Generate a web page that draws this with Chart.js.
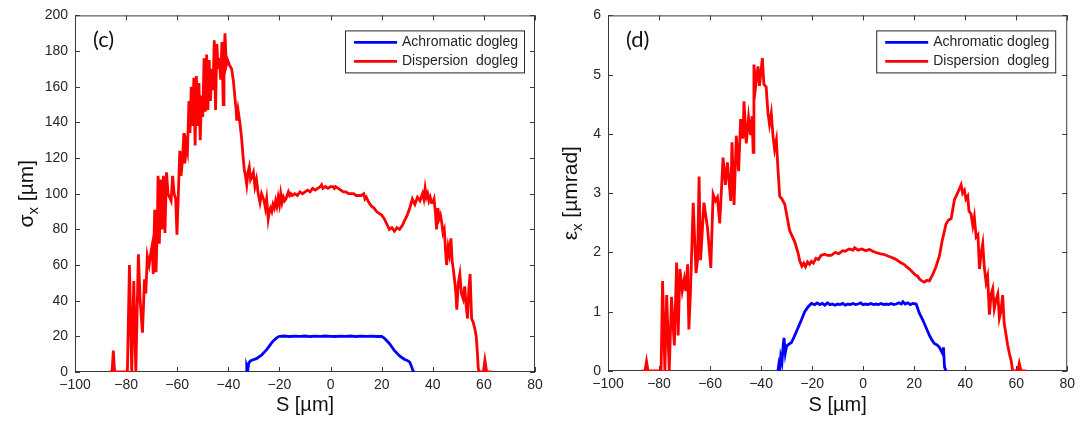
<!DOCTYPE html>
<html>
<head>
<meta charset="utf-8">
<script src="https://cdn.jsdelivr.net/npm/chart.js@4"></script>
<style>
  body { margin: 0; background: #fff; width: 1080px; height: 421px; overflow: hidden; position: relative; }
  canvas { position: absolute; top: 0; }
  #plotC { left: 0; }
  #plotD { left: 540px; }
</style>
</head>
<body>
<canvas id="plotC" width="560" height="421"></canvas>
<canvas id="plotD" width="540" height="421"></canvas>
<script>
// ---- data: [S (um), value] ----
const xTicks = [-100, -80, -60, -40, -20, 0, 20, 40, 60, 80];
const sigmaTicks = [0, 20, 40, 60, 80, 100, 120, 140, 160, 180, 200];
const emitTicks = [0, 1, 2, 3, 4, 5, 6];
const seriesNames = ["Achromatic dogleg", "Dispersion  dogleg"];

// (c) sigma_x, achromatic dogleg
const sigmaAchro = [
  [-33,0],[-32.8,3],[-32.4,1],[-32,5],[-31.5,6],[-31,6.5],[-30,7],[-29,7.5],[-28,8.5],[-27,9.5],
  [-26,11],[-25,12.5],[-24,14.5],[-23,16.5],[-22,18],[-21,19.3],[-20,20],[-18,20.2],[-16,19.9],
  [-14,20.1],[-12,20],[-10,20.2],[-8,19.9],[-6,20.1],[-4,20],[-2,20.2],[0,20],[2,19.9],[4,20.1],
  [6,20],[8,20.2],[10,19.9],[12,20.1],[14,20],[16,20.1],[18,19.9],[20,20],[21,19],[22,17.5],
  [23,16],[24,14],[25,12],[26,10.5],[27,9],[28,8],[29,7],[30,6.5],[31,5.5],[31.7,3],[32.2,1],
  [32.5,0],[33,0]
];

// (c) sigma_x, dispersion dogleg
const sigmaDisp = [
  [-86.5,0],[-85.5,0],[-85,12],[-84.5,0],[-79.5,0],[-78.7,60],[-77.8,0],[-77,51],[-76.2,0],[-75.2,66],
  [-74.5,40],[-73.6,22],[-72.8,52],[-72.3,44],[-71.7,65],[-71,60],[-70.3,67],[-69.8,71],[-69.4,55],
  [-68.8,91],[-68.3,56],[-67.8,80],[-67.5,110],[-67,72],[-66.4,108],[-66,80],[-65.4,110],[-64.8,78],
  [-64.2,112],[-63.6,100],[-63,98],[-62.4,96],[-61.8,110],[-61.2,100],[-60.6,97],[-60.1,77],[-59.6,98],
  [-59,124],[-58.5,110],[-58,118],[-57.4,134],[-57,117],[-56.5,128],[-56,124],[-55.4,152],[-55,134],
  [-54.5,160],[-54,138],[-53.5,165],[-53,127],[-52.5,166],[-52,138],[-51.5,162],[-51,130],[-50.5,155],
  [-50,143],[-49.5,176],[-49,146],[-48.5,178],[-48,147],[-47.5,175],[-47,152],[-46.5,170],[-46,158],
  [-45.5,186],[-45,147],[-44.5,184],[-44,170],[-43.5,176],[-43,164],[-42.5,185],[-42,150],[-41.7,176],
  [-41.3,190],[-40.8,172],[-40.3,175],[-39.5,172],[-38.7,170],[-38,163],[-37.3,152],[-37,148],
  [-36.7,141],[-36.2,147],[-35.5,140],[-34.8,131],[-34.3,122],[-33.8,114],[-33.3,110],[-32.8,105],
  [-32.3,112],[-31.8,115],[-31.3,108],[-30.7,110],[-30.2,112],[-29.6,104],[-29,108],[-28.3,100],
  [-27.6,95],[-27,100],[-26.5,98],[-26,96],[-25.5,92],[-25,97],[-24.4,86],[-24,90],[-23.5,92],
  [-23,90],[-22.5,94],[-22,92],[-21.5,96],[-21,93],[-20.5,98],[-20,94],[-19.5,100],[-19,95],
  [-18.5,98],[-18,96],[-17.5,97],[-17,99],[-16.5,101],[-16,99],[-15.5,100],[-15,99],[-14,100],
  [-13,99],[-12,101],[-11,100],[-10,101],[-9,102],[-8,101],[-7,103],[-6,102],[-5,103],[-4,104],
  [-3.5,105],[-3,103],[-2,104],[-1,103],[0,104],[1,104],[1.5,103],[2,104],[3,103],[4,102],[5,101],
  [6,101],[7,100],[8,100],[9,100],[10,99],[11,99],[12,99],[13,100],[13.5,97],[14,98],[15,95],
  [16,93],[17,92],[18,90],[19,89],[20,88],[21,86],[22,83],[23,80],[24,81],[25,79],[26,81],[27,80],
  [28,82],[29,85],[30,88],[31,92],[32,97],[33,94],[34,98],[35,96],[36,100],[36.5,97],[37,103],
  [37.5,98],[38,100],[38.5,96],[39,98],[39.5,95],[40,95],[40.5,97],[41,90],[41.5,80],[42,92],
  [42.5,86],[43,88],[43.5,84],[44,78],[44.5,80],[45,68],[45.4,60],[46,70],[46.5,66],[47.1,75],
  [47.6,62],[48,58],[48.5,52],[49,45],[49.4,35],[50,50],[50.6,55],[51.2,44],[51.9,41],[52.5,48],
  [53,38],[53.6,30],[54.1,46],[54.6,55],[55.2,30],[55.8,28],[56.5,24],[57,20],[57.4,12],[57.8,2],
  [58.2,0],[59.8,0],[60.4,6.6],[61.1,0],[63,0]
];

// (d) eps_x, achromatic dogleg
const emitAchro = [
  [-33.4,0],[-33,0.12],[-32.6,0.05],[-32.3,0.24],[-31.8,0.15],[-31.3,0.45],[-31,0.56],[-30.5,0.3],
  [-30,0.42],[-29.2,0.45],[-28.1,0.48],[-27,0.58],[-25.5,0.73],[-24.2,0.86],[-22.9,1.0],[-21.6,1.08],
  [-20.3,1.14],[-19,1.12],[-18,1.15],[-17,1.12],[-16,1.14],[-15,1.11],[-14,1.15],[-13,1.12],
  [-12,1.13],[-11,1.11],[-10,1.13],[-9,1.12],[-8,1.14],[-7,1.11],[-6,1.13],[-5,1.12],[-4,1.14],
  [-3,1.12],[-2,1.13],[-1,1.15],[0,1.12],[1,1.13],[2,1.12],[3,1.14],[4,1.12],[5,1.13],[6,1.12],
  [7,1.14],[8,1.12],[9,1.13],[10,1.12],[11,1.14],[12,1.12],[13,1.13],[14,1.15],[15,1.13],
  [15.6,1.17],[16.5,1.13],[17.5,1.15],[18.5,1.12],[19.5,1.14],[20.8,1.13],[22,0.98],[23.4,0.86],
  [24.7,0.73],[26,0.6],[27,0.52],[28,0.46],[29,0.44],[29.9,0.4],[30.5,0.35],[31.2,0.29],[31.5,0.4],
  [31.9,0.07],[32.5,0]
];

// (d) eps_x, dispersion dogleg
const emitDisp = [
  [-86.8,0],[-85.5,0],[-84.9,0.16],[-84.3,0],[-79.2,0],[-78.6,1.52],[-77.7,0],[-77,1.28],[-76,0],
  [-75.1,1.25],[-74,0.43],[-73.1,1.83],[-72.5,0.6],[-71.8,1.72],[-70.9,1.35],[-70.1,1.55],
  [-69.5,1.35],[-68.8,1.8],[-68.3,0.7],[-67.7,1.3],[-66.6,2.84],[-65.5,1.65],[-64.9,1.87],
  [-64.3,3.28],[-63.7,1.87],[-62.4,2.84],[-61,2.42],[-59.7,1.74],[-58.8,2.98],[-57.9,2.87],
  [-57.1,2.93],[-56.2,2.49],[-54.9,3.6],[-54,3.14],[-53.2,3.52],[-51.9,2.87],[-51.4,3.86],
  [-50.6,2.8],[-49.7,3.97],[-48.8,3.37],[-48,4.25],[-47.1,3.92],[-46.7,4.55],[-45.8,3.84],
  [-44.9,4.28],[-44.1,3.98],[-43.5,4.3],[-43.1,3.69],[-42.8,5.17],[-42.1,4.81],[-41.2,5.14],
  [-40.6,4.81],[-39.5,5.28],[-38.9,4.84],[-38,4.79],[-37.3,4.35],[-36.7,4.16],[-36,4.35],
  [-35.3,3.95],[-34.7,3.74],[-34,3.9],[-33.4,3.42],[-32.7,2.95],[-31.8,2.9],[-30.7,2.81],
  [-29.8,2.6],[-28.8,2.37],[-26.8,2.18],[-25.5,1.99],[-24.8,1.85],[-24,1.77],[-23.3,1.82],
  [-22.6,1.76],[-21.8,1.84],[-21,1.8],[-20.3,1.85],[-19.5,1.82],[-18.5,1.9],[-17.5,1.88],
  [-16.5,1.95],[-15.1,1.97],[-14,1.95],[-12.5,1.95],[-11,2.0],[-9.5,1.98],[-8,2.03],[-7,2.02],
  [-5.5,2.06],[-4,2.04],[-3.3,2.08],[-2,2.04],[-0.5,2.06],[1,2.03],[2.5,2.05],[3.8,2.02],[5,2.0],
  [6.5,1.98],[8,1.97],[9.7,1.94],[11,1.92],[12,1.9],[13,1.88],[14,1.85],[15,1.82],[16,1.8],
  [17,1.76],[18.2,1.72],[19.3,1.67],[20.5,1.62],[21.3,1.6],[22.1,1.55],[23,1.52],[24,1.5],
  [25,1.53],[26,1.52],[27.3,1.63],[28.5,1.75],[29.9,1.94],[31,2.2],[32.5,2.48],[33.5,2.55],
  [34.5,2.57],[35.8,2.89],[37,3.0],[37.8,3.08],[38.4,3.14],[39,3.0],[39.7,3.05],[40.3,2.9],
  [41,2.95],[41.5,2.7],[42.3,2.65],[43,2.45],[43.6,2.6],[44.3,2.26],[45,2.3],[45.6,1.72],
  [46.3,2.0],[46.9,2.15],[47.5,1.75],[48.2,1.5],[48.8,1.6],[49.5,0.95],[50.2,1.3],[50.8,1.39],
  [51.4,1.05],[52.1,1.2],[52.8,1.3],[53.4,0.89],[54,1.0],[54.7,1.28],[55.3,0.8],[56,0.62],
  [56.6,0.45],[57.3,0.3],[58,0.18],[58.6,0],[60.6,0],[61.2,0.13],[61.9,0],[63.8,0]
];

const BLUE = "#0000ff";
const RED = "#ff0000";
const AXIS = "#3a3a3a";
const TEXT = "#262626";
const FONT = '"Liberation Sans", Arial, sans-serif';

function toPoints(list) {
    return list.map(p => ({ x: p[0], y: p[1] }));
}

function fmt(v) {
    return v < 0 ? "\u2212" + Math.abs(v) : String(v);
}

/* ===============================
   MATLAB-STYLE FRAME, LEGEND, LABELS
================================= */
const matlabLook = {
    id: "matlabLook",
    beforeDatasetsDraw(chart) {
        const ctx = chart.ctx;
        const a = chart.chartArea;
        const sx = chart.scales.x, sy = chart.scales.y;
        ctx.save();
        ctx.strokeStyle = AXIS;
        ctx.lineWidth = 1;
        ctx.strokeRect(a.left + 0.5, a.top + 0.5, a.right - a.left - 1, a.bottom - a.top - 1);
        ctx.beginPath();
        sx.ticks.forEach(t => {
            let px = Math.round(sx.getPixelForValue(t.value)) + 0.5;
            ctx.moveTo(px, a.bottom); ctx.lineTo(px, a.bottom - 5);
            ctx.moveTo(px, a.top); ctx.lineTo(px, a.top + 5);
        });
        sy.ticks.forEach(t => {
            let py = Math.round(sy.getPixelForValue(t.value)) + 0.5;
            ctx.moveTo(a.left, py); ctx.lineTo(a.left + 5, py);
            ctx.moveTo(a.right, py); ctx.lineTo(a.right - 5, py);
        });
        ctx.stroke();
        ctx.restore();
    },
    afterDraw(chart, args, o) {
        const ctx = chart.ctx;
        const a = chart.chartArea;
        ctx.save();

        // legend box
        let lw = 179, lx = a.right - o.legendGap - lw, ly = a.top + 15;
        ctx.fillStyle = "#fff";
        ctx.fillRect(lx, ly, lw, 42);
        ctx.strokeStyle = TEXT;
        ctx.lineWidth = 1;
        ctx.strokeRect(lx + 0.5, ly + 0.5, lw, 42);
        ctx.font = "14px " + FONT;
        ctx.textBaseline = "middle";
        ctx.textAlign = "left";
        chart.data.datasets.forEach((ds, i) => {
            let yy = ly + 12 + i * 19;
            ctx.strokeStyle = ds.borderColor;
            ctx.lineWidth = 2.8;
            ctx.beginPath();
            ctx.moveTo(lx + 9, yy); ctx.lineTo(lx + 52, yy);
            ctx.stroke();
            ctx.fillStyle = TEXT;
            ctx.fillText(ds.label, lx + 57, yy);
        });

        // panel tag
        ctx.fillStyle = "#111";
        ctx.font = "22px Lato, " + FONT;
        ctx.fillText(o.tag, a.left + 18, a.top + 25);

        // x title
        ctx.font = "20px " + FONT;
        ctx.textAlign = "center";
        ctx.fillStyle = "#111";
        ctx.fillText("S [\u00b5m]", (a.left + a.right) / 2, 405);

        // y title with subscript, rotated
        ctx.translate(o.yTitleX, (a.top + a.bottom) / 2);
        ctx.rotate(-Math.PI / 2);
        ctx.textAlign = "left";
        ctx.font = "21px " + FONT;
        let w1 = ctx.measureText(o.sym).width;
        let w3 = ctx.measureText(o.unit).width;
        ctx.font = "15px " + FONT;
        let w2 = ctx.measureText("x").width;
        let start = -(w1 + w2 + w3) / 2;
        ctx.font = "21px " + FONT;
        ctx.fillText(o.sym, start, 0);
        ctx.font = "15px " + FONT;
        ctx.fillText("x", start + w1, 7);
        ctx.font = "21px " + FONT;
        ctx.fillText(o.unit, start + w1 + w2, 0);
        ctx.restore();
    }
};

function makePlot(id, achro, disp, yTicks, yMax, pad, deco) {
    return new Chart(document.getElementById(id), {
        type: "scatter",
        data: {
            datasets: [
                { label: seriesNames[0], data: toPoints(achro), borderColor: BLUE, backgroundColor: BLUE },
                { label: seriesNames[1], data: toPoints(disp), borderColor: RED, backgroundColor: RED }
            ].map(d => Object.assign(d, { showLine: true, pointRadius: 0, borderWidth: 2.8, tension: 0, fill: false }))
        },
        options: {
            responsive: false,
            animation: false,
            events: [],
            layout: { autoPadding: false, padding: pad },
            plugins: { legend: { display: false }, tooltip: { enabled: false }, matlabLook: deco },
            scales: {
                x: {
                    type: "linear", min: xTicks[0], max: xTicks[xTicks.length - 1],
                    afterBuildTicks: s => { s.ticks = xTicks.map(v => ({ value: v })); },
                    afterFit: s => { s.height = 421 - pad.top - (deco.plotH); },
                    grid: { display: false, drawTicks: false },
                    border: { display: false },
                    ticks: { autoSkip: false, maxRotation: 0, padding: 5, color: TEXT, font: { family: FONT, size: 14 }, callback: v => fmt(v) }
                },
                y: {
                    type: "linear", min: 0, max: yMax,
                    afterBuildTicks: s => { s.ticks = yTicks.map(v => ({ value: v })); },
                    afterFit: s => { s.width = deco.axisW; },
                    grid: { display: false, drawTicks: false },
                    border: { display: false },
                    ticks: { autoSkip: false, padding: 7, color: TEXT, font: { family: FONT, size: 14 }, callback: v => fmt(v) }
                }
            }
        },
        plugins: [matlabLook]
    });
}

makePlot("plotC", sigmaAchro, sigmaDisp, sigmaTicks, 200,
    { top: 10, right: 25, left: 0, bottom: 0 },
    { tag: "(c)", sym: "\u03c3", unit: " [\u00b5m]", yTitleX: 27, axisW: 75, plotH: 362, legendGap: 11 });

makePlot("plotD", emitAchro, emitDisp, emitTicks, 6,
    { top: 6, right: 12, left: 0, bottom: 0 },
    { tag: "(d)", sym: "\u03b5", unit: " [\u00b5mrad]", yTitleX: 31, axisW: 68, plotH: 365, legendGap: 12 });
</script>
</body>
</html>
